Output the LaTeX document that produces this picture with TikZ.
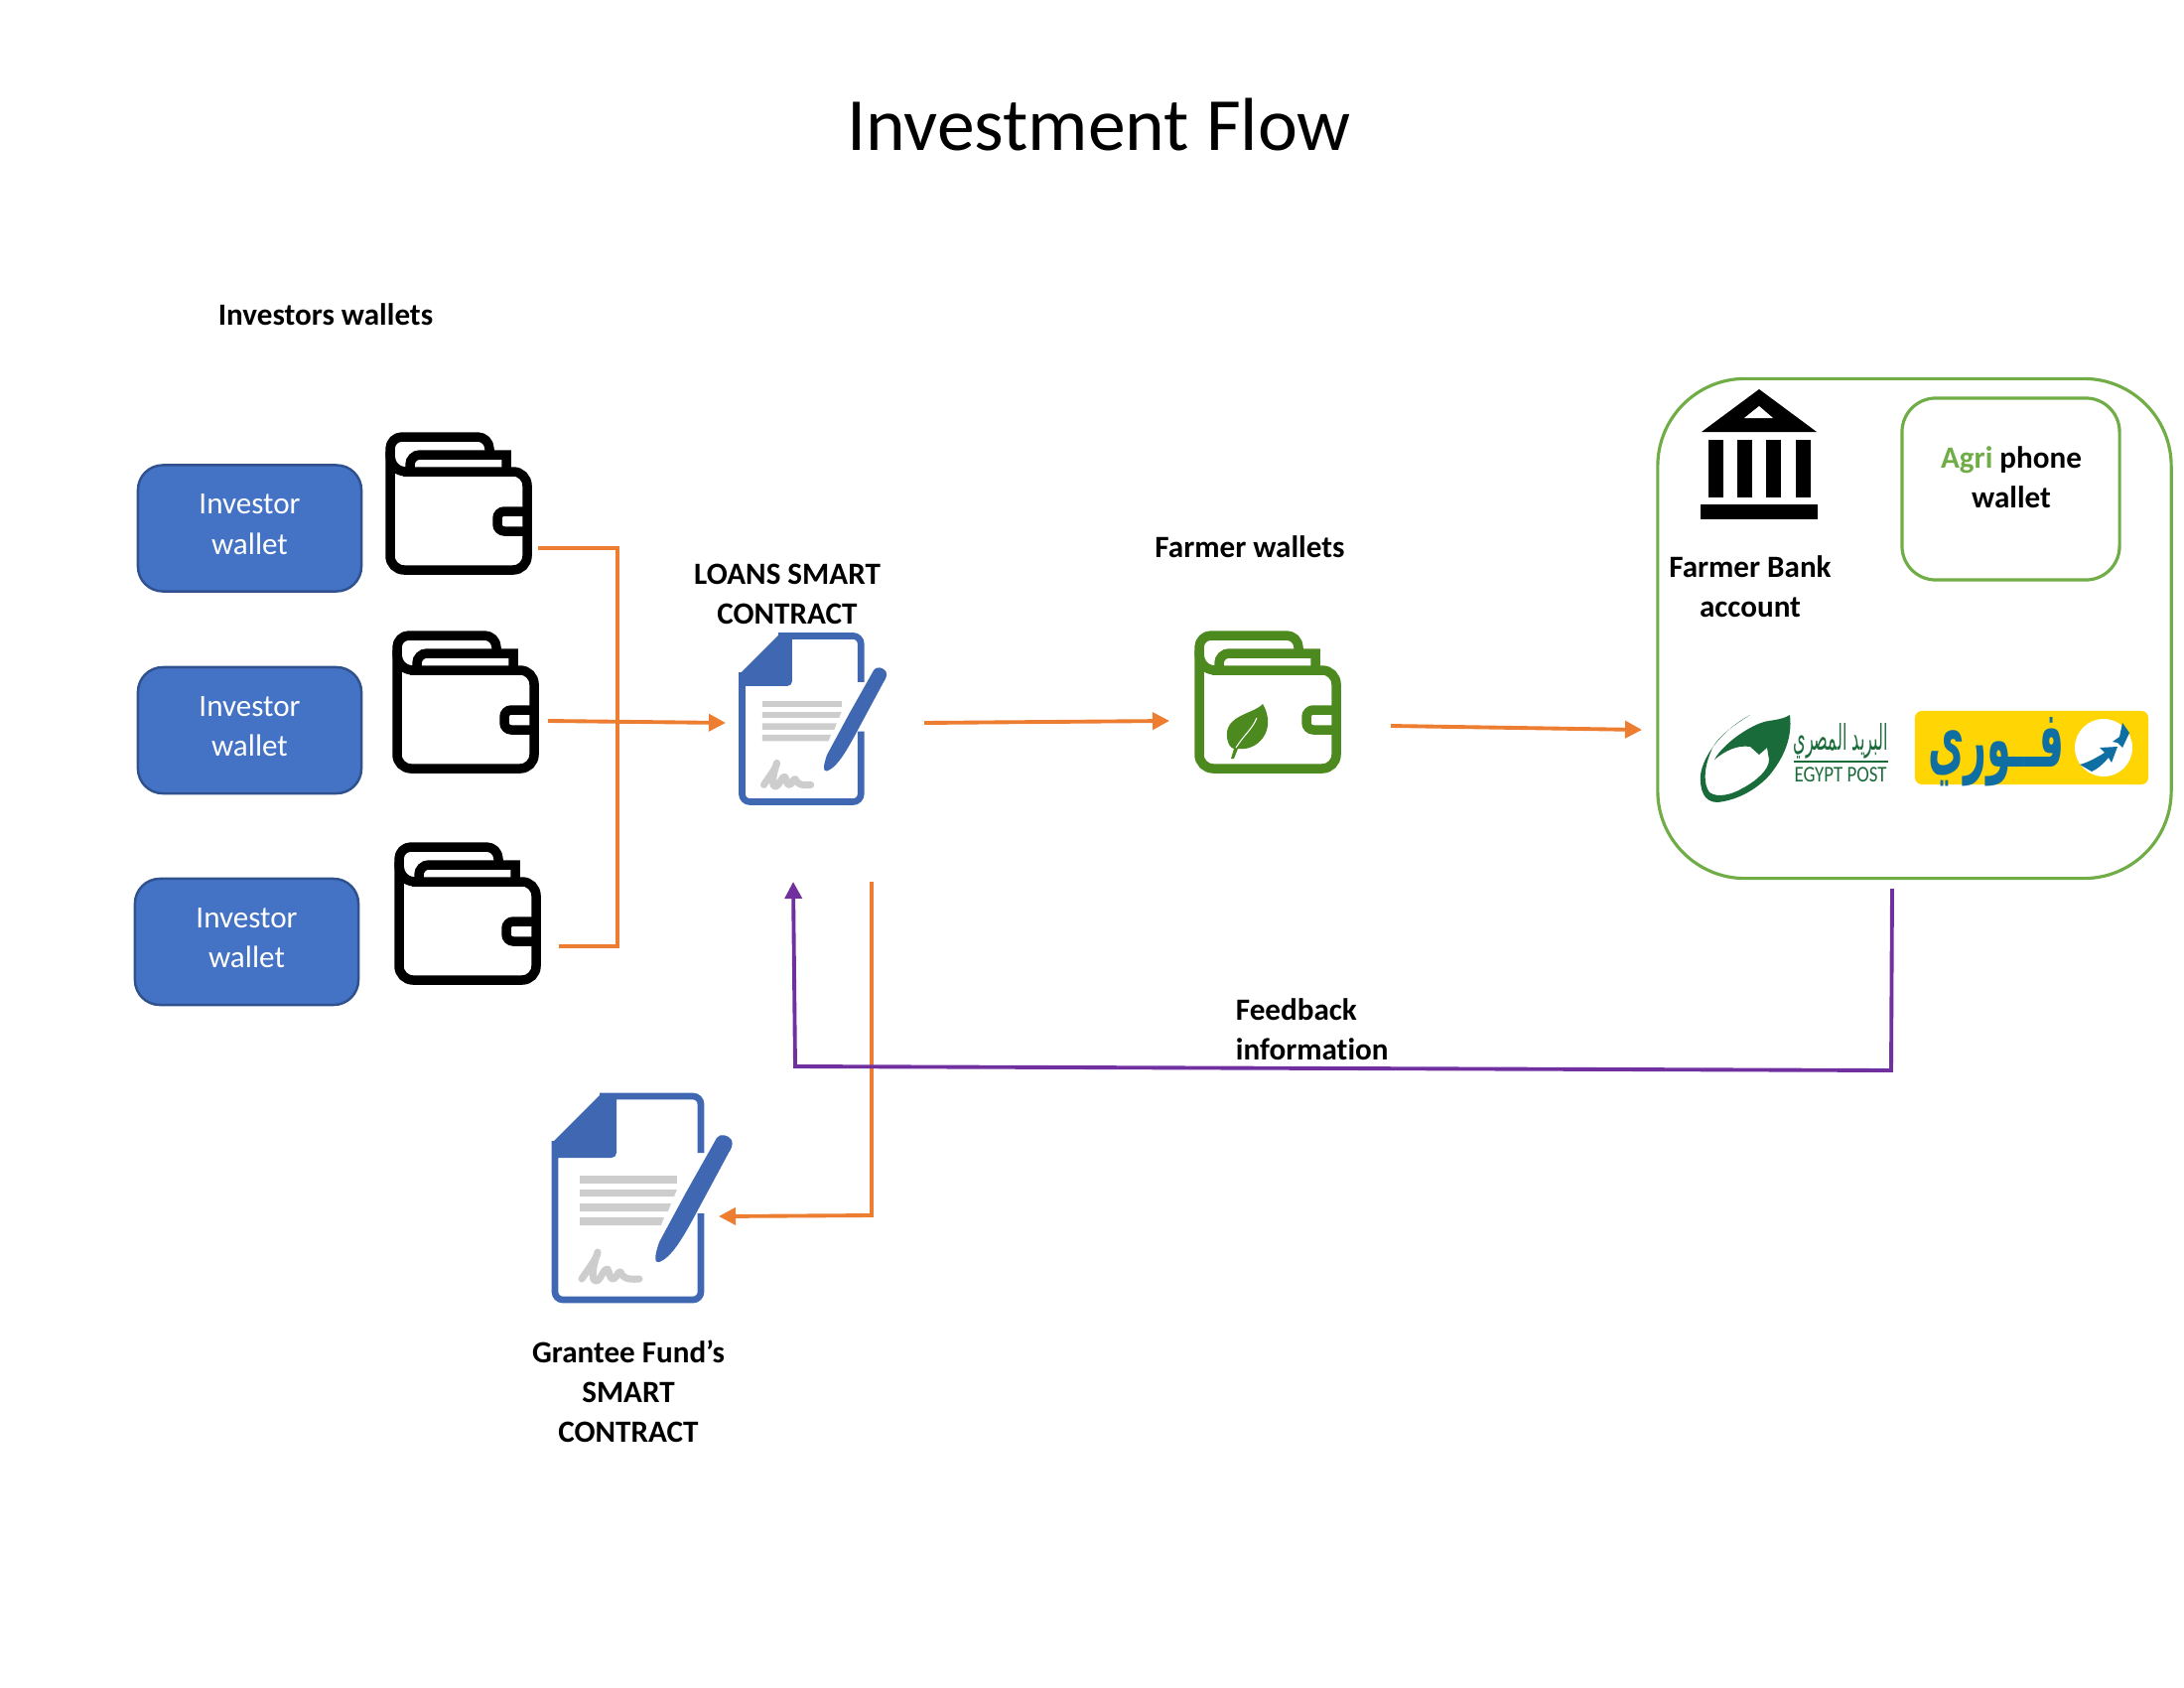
\documentclass[tikz,border=0pt]{standalone}
\usepackage{fontspec}
\usetikzlibrary{arrows.meta}
\setmainfont[Ligatures=NoCommon]{Carlito}
\newfontfamily\arabicfont[Script=Arabic]{DejaVu Sans}
\TeXXeTstate=1
\definecolor{cblue}{HTML}{4472C4}
\definecolor{cblueline}{HTML}{2F528F}
\definecolor{cdoc}{HTML}{3F67B2}
\definecolor{corange}{HTML}{ED7D31}
\definecolor{cpurple}{HTML}{7030A0}
\definecolor{cgreen}{HTML}{70AD47}
\definecolor{cleaf}{HTML}{4C8A1F}
\definecolor{cpost}{HTML}{1A6B3A}
\definecolor{cfawry}{HTML}{FFD503}
\definecolor{cfawryblue}{HTML}{0F6FA3}
\definecolor{cmark}{HTML}{CDCDCD}
\tikzset{
  investorbox/.style={draw=cblueline,line width=0.7pt,fill=cblue,text=white,rounded corners=0.25cm,minimum width=2.25cm,minimum height=1.27cm,align=center,text depth=0.08cm,font=\fontsize{8.85}{11.4}\selectfont},
  lbl/.style={align=center,font=\fontsize{8.85}{11.4}\selectfont\bfseries},
  flow/.style={corange,line width=1.1pt,-{Triangle[length=0.17cm,width=0.17cm]}},
  flowline/.style={corange,line width=1.1pt},
  feedback/.style={cpurple,line width=1.1pt},
  pics/wallet/.style={code={
    \draw[line width=2.7pt,line join=round] (5,22) -- (5,20) [rounded corners=0.12cm] -- (5,5) -- (105,5) [sharp corners] -- (105,20);
    \draw[line width=2.7pt] (5,22) .. controls (5,34) and (12,40) .. (22,40);
    \draw[line width=2.7pt,line join=miter] (25,40) [rounded corners=0.1cm] -- (25,23) [sharp corners] -- (122,23) -- (122,40);
    \draw[line width=2.7pt,rounded corners=0.14cm] (18,40) -- (143,40) -- (143,139) -- (5,139) -- (5,20);
    \draw[line width=2.7pt,rounded corners=0.07cm] (143,80) -- (113,80) -- (113,100) -- (143,100);
  }},
  pics/contract/.style={code={
    \fill[cdoc] (0,50) -- (50,0) -- (65,0) [rounded corners=0.05cm] -- (65,65) [sharp corners] -- (0,65) -- cycle;
    \draw[cdoc,line width=1.9pt,rounded corners=0.08cm] (150,60) -- (150,3) -- (48,3) (3,48) -- (3,208) -- (150,208) -- (150,121);
    \fill[cmark] (28,83) rectangle (126,91);
    \fill[cmark] (28,97) -- (126,97) -- (123,104) -- (28,104) -- cycle;
    \fill[cmark] (28,111) -- (120,111) -- (117,119) -- (28,119) -- cycle;
    \fill[cmark] (28,125) -- (113,125) -- (110,133) -- (28,133) -- cycle;
    \draw[cmark,line width=2pt,line cap=round,line join=round] (30,187) .. controls (38,175) and (46,165) .. (46,160) .. controls (42,172) and (38,190) .. (45,189) .. controls (50,187) and (52,176) .. (56,177) .. controls (58,180) and (58,188) .. (62,187) .. controls (66,185) and (66,179) .. (69,180) .. controls (71,186) and (76,188) .. (88,187);
    \fill[cdoc] (166,45) .. controls (169,40) and (178,42) .. (181,47) .. controls (183,52) and (180,57) .. (178,60) -- (150,112) .. controls (135,140) and (122,165) .. (108,170) .. controls (102,171) and (104,162) .. (108,150) -- (135,100) -- cycle;
  }},
  pics/leaf/.style={code={
    \fill[cleaf] (69,74) .. controls (60,84) and (30,85) .. (33,108) .. controls (34,114) and (36,118) .. (40,119) -- (37,129) -- (40,129) -- (44,119) .. controls (64,122) and (84,100) .. (69,74) -- cycle;
    \draw[white,line width=0.3pt] (42,118) .. controls (50,105) and (58,100) .. (63,88);
  }},
  pics/bank/.style={code={
    \fill (1772,392) -- (1830,435) -- (1714,435) -- cycle;
    \fill[white] (1772,409) -- (1786,421) -- (1757,421) -- cycle;
    \foreach \x in {1721,1750,1779,1809} \fill (\x,443) rectangle ({\x+15},501);
    \fill (1713,508) rectangle (1831,523);
  }}
}
\begin{document}
\begin{tikzpicture}[x=0.01cm,y=-0.01cm]
  \useasboundingbox (0,0) rectangle (2200,1700);
  \node[font=\fontsize{21.5}{26}\selectfont] (title) at (1107,126) {Investment Flow};
  \node[lbl] (investorslbl) at (328,317) {Investors wallets};
  % investors
  \node[investorbox] (inv1) at (251.5,532) {Investor\\wallet};
  \node[investorbox] (inv2) at (251.5,735.5) {Investor\\wallet};
  \node[investorbox] (inv3) at (248.5,948.5) {Investor\\wallet};
  \pic[black] at (388,435) {wallet};
  \pic[black] at (395,635) {wallet};
  \pic[black] at (397,848) {wallet};
  % contracts
  \node[lbl] (loanslbl) at (793,598) {LOANS SMART\\CONTRACT};
  \pic[scale=0.815,transform shape] at (745,638) {contract};
  \pic at (556,1101) {contract};
  \node[lbl] (granteelbl) at (633,1401) {Grantee Fund’s\\SMART\\CONTRACT};
  % farmer
  \node[lbl] (farmerlbl) at (1259,551) {Farmer wallets};
  \pic[cleaf] at (1203,635) {wallet};
  \pic at (1203,635) {leaf};
  % payout group
  \node[draw=cgreen,line width=0.9pt,rounded corners=0.88cm,minimum width=5.17cm,minimum height=5.03cm] (payout) at (1928.5,633) {};
  \node[draw=cgreen,line width=0.9pt,rounded corners=0.34cm,minimum width=2.19cm,minimum height=1.83cm] (agribox) at (2025.5,492.5) {};
  \node[lbl] (agrilbl) at (2026,481) {\textcolor{cgreen}{Agri} phone\\wallet};
  \pic[black] at (0,0) {bank};
  \node[lbl] (banklbl) at (1763,591) {Farmer Bank\\account};
  % egypt post logo
  \fill[cpost] (1803,720) .. controls (1806,745) and (1795,765) .. (1783,780) .. controls (1770,795) and (1750,806) .. (1730,808) .. controls (1716,808) and (1712,795) .. (1713,780) .. controls (1716,760) and (1735,735) .. (1763,720) .. controls (1742,733) and (1727,745) .. (1723,758) .. controls (1716,775) and (1716,790) .. (1722,798) .. controls (1730,804) and (1745,800) .. (1755,794) .. controls (1770,786) and (1782,775) .. (1782,765) -- (1780,753) -- (1772,760) -- (1763,752) .. controls (1750,750) and (1738,756) .. (1727,765) .. controls (1735,750) and (1760,732) .. (1777,727) .. controls (1785,725) and (1795,725) .. cycle;
  \node[text=cpost,inner sep=0pt] (postar) at (1854,746) {\resizebox{0.95cm}{0.27cm}{\arabicfont\beginR البريد المصري\endR}};
  \draw[cpost,line width=0.4pt] (1807,767) -- (1902,767);
  \node[text=cpost,inner sep=0pt] (posten) at (1854,780) {\resizebox{0.93cm}{0.147cm}{EGYPT POST}};
  % fawry logo
  \node[fill=cfawry,rounded corners=0.07cm,minimum width=2.35cm,minimum height=0.74cm] (fawry) at (2046.5,753) {};
  \node[text=cfawryblue,inner sep=0pt] (fawryar) at (2011,757) {\resizebox{1.37cm}{0.5cm}{\arabicfont\bfseries\beginR فــوري\endR}};
  \fill[white] (2119,753) circle (29);
  \fill[cfawryblue] (2095,770) .. controls (2103,768) and (2112,763) .. (2120,758) -- (2115,753) -- (2133,752) -- (2127,768) -- (2124,763) .. controls (2118,770) and (2112,775) .. (2107,777) -- cycle;
  \fill[cfawryblue] (2138,728) -- (2145,738) -- (2138,753) -- (2133,748) -- (2128,747) -- (2135,742) -- cycle;
  % connectors
  \coordinate (w1out) at (542,552);
  \coordinate (w2out) at (552,726);
  \coordinate (w3out) at (563,953);
  \coordinate (loansin) at (731,728);
  \coordinate (loansout) at (931,728);
  \coordinate (farmerin) at (1178,726);
  \coordinate (farmerout) at (1401,731);
  \coordinate (payoutin) at (1654,735);
  \coordinate (grantout) at (878,888);
  \coordinate (grantin) at (724,1225);
  \coordinate (fbstart) at (1906,895);
  \coordinate (fbend) at (799,888);
  \draw[flowline] (w1out) -- (622,552) -- (622,953) -- (w3out);
  \draw[flow] (w2out) -- (loansin);
  \draw[flow] (loansout) -- (farmerin);
  \draw[flow] (farmerout) -- (payoutin);
  \draw[flow] (grantout) -- (878,1224) -- (grantin);
  \draw[feedback,-{Triangle[length=0.17cm,width=0.17cm]}] (fbstart) -- (1905,1078) -- (801,1074) -- (fbend);
  \node[lbl,align=left,anchor=west] (feedbacklbl) at (1232.5,1037) {Feedback\\information};
\end{tikzpicture}
\end{document}
